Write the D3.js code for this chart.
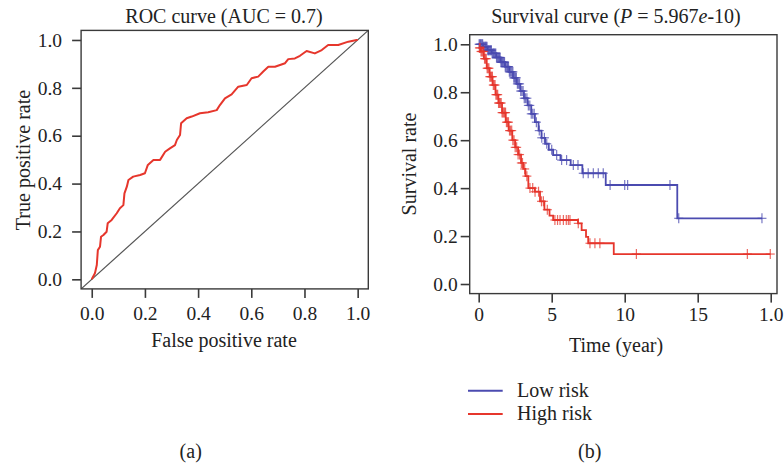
<!DOCTYPE html>
<html>
<head>
<meta charset="utf-8">
<script src="https://cdn.jsdelivr.net/npm/d3@7"></script>
<style>
    body { margin: 0; background: #fff; }
    svg text { font-family: 'Liberation Serif', 'Times New Roman', serif; fill: #222; }
</style>
</head>
<body>
<svg width="784" height="466"></svg>
<script>
// ROC curve (panel a)
var rocFpr = [ 0, .012, .019, .023, .031, .035, .044, .056, .06, .075, .094, .106, .119, .123, .132, .138,
               .156, .182, .2, .211, .232, .257, .276, .294, .313, .32, .332, .336, .357, .376, .407, .438,
               .47, .482, .501, .526, .551, .583, .601, .626, .645, .664, .689, .727, .739, .764, .783,
               .808, .839, .865, .889, .927, .965, .996, 1 ],
    rocTpr = [ 0, .025, .06, .122, .136, .178, .185, .199, .234, .248, .276, .297, .31, .359, .387, .415,
               .429, .436, .443, .478, .499, .499, .533, .547, .561, .582, .603, .652, .673, .68, .694, .698,
               .707, .728, .756, .773, .805, .812, .84, .847, .868, .888, .888, .903, .92, .923, .934,
               .954, .944, .958, .979, .979, .993, 1, 1 ],
    rocTicks = [ 0, 0.2, 0.4, 0.6, 0.8, 1 ];

// Survival curve (panel b)
var lowTimes  = [ 0, 0.3, 0.6, 0.9, 1.2, 1.5, 1.8, 2.1, 2.35, 2.6, 2.85, 3.1, 3.35, 3.6, 3.85, 4.1, 4.3,
                  4.55, 4.8, 5.1, 5.6, 6.3, 7.1, 8.7, 13.6, 19.4 ],
    lowSurv   = [ 1, .99, .975, .962, .945, .925, .907, .885, .86, .835, .805, .775, .745, .71, .675, .64,
                  .61, .585, .56, .538, .517, .496, .462, .413, .274, .274 ],
    lowCensor = [ 0.03, 0.08, 0.12, 0.17, 0.22, 0.27, 0.32, 0.37, 0.42, 0.47, 0.52, 0.57, 0.62, 0.67, 0.72,
                  0.77, 0.82, 0.87, 0.92, 0.97, 1.02, 1.07, 1.12, 1.17, 1.22, 1.27, 1.32, 1.37, 1.42, 1.47,
                  1.52, 1.57, 1.62, 1.67, 1.72, 1.77, 1.82, 1.87, 1.93, 1.98, 2.04, 2.1, 2.16, 2.22, 2.28,
                  2.34, 2.4, 2.46, 2.52, 2.58, 2.65, 2.72, 2.8, 2.88, 2.96, 3.04, 3.12, 3.2, 3.3, 3.4, 3.5,
                  3.6, 3.7, 3.8, 3.95, 4.15, 4.32, 4.5, 4.66, 5.0, 5.34, 5.68, 6.02, 6.48, 6.8,
                  7.16, 7.5, 7.85, 8.19, 8.53, 9.0, 10.0, 10.2, 13.1, 13.7, 19.4 ],
    highTimes  = [ 0, 0.15, 0.35, 0.55, 0.75, 0.95, 1.15, 1.35, 1.6, 1.85, 2.05, 2.3, 2.5, 2.7, 2.9, 3.05,
                   3.2, 3.4, 3.85, 4.2, 4.5, 4.85, 5.1, 6.8, 7.05, 7.35, 7.5, 9.25, 19.97 ],
    highSurv   = [ .985, .97, .94, .9, .865, .83, .79, .755, .715, .675, .64, .6, .57, .54, .505, .48,
                   .45, .4, .385, .345, .31, .285, .267, .253, .225, .197, .17, .125, .125 ],
    highCensor = [ 0.05, 0.1, 0.16, 0.22, 0.28, 0.34, 0.4, 0.46, 0.52, 0.58, 0.64, 0.7, 0.76, 0.82, 0.88,
                   0.94, 1.0, 1.06, 1.12, 1.18, 1.24, 1.3, 1.36, 1.42, 1.48, 1.54, 1.6, 1.66, 1.72, 1.78,
                   1.84, 1.9, 1.97, 2.04, 2.11, 2.18, 2.26, 2.34, 2.42, 2.5, 2.6, 2.7, 2.8, 2.92, 3.0, 3.15,
                   3.3, 3.51, 3.7, 3.86, 4.1, 4.3, 4.43, 4.7, 5.22, 5.4, 5.57, 5.8, 6.0,
                   6.14, 6.25, 6.82, 7.62, 7.96, 8.3, 10.8, 18.4, 19.97 ],
    survXTicks  = [ 0, 5, 10, 15, 20 ],
    survXLabels = [ '0', '5', '10', '15', '1.0' ],
    survYTicks  = [ 0, 0.2, 0.4, 0.6, 0.8, 1 ],
    legendNames = [ 'Low risk', 'High risk' ];

var red   = '#e6362c',
    blue  = '#4b4bb0',
    frame = '#3a3a3a',
    svg   = d3.select( 'svg' ),
    fmt   = d3.format( '.1f' );

function styleAxis( g, fs ) {
    g.select( '.domain' ).remove();
    g.selectAll( '.tick line' ).attr( 'stroke', frame ).attr( 'stroke-width', 1.6 );
    g.selectAll( '.tick text' ).style( 'font-size', fs + 'px' ).attr( 'fill', '#222' );
}

// ---------- panel a ----------
var xa = d3.scaleLinear().domain( [ -0.04, 1.04 ] ).range( [ 81.1, 368.3 ] ),
    ya = d3.scaleLinear().domain( [ -0.04, 1.04 ] ).range( [ 288.9, 30.4 ] ),
    ga = svg.append( 'g' );

ga.append( 'clipPath' ).attr( 'id', 'clipA' )
    .append( 'rect' )
    .attr( 'x', xa.range()[ 0 ] ).attr( 'y', ya.range()[ 1 ] )
    .attr( 'width', xa.range()[ 1 ] - xa.range()[ 0 ] )
    .attr( 'height', ya.range()[ 0 ] - ya.range()[ 1 ] );

// diagonal reference line
ga.append( 'line' )
    .attr( 'clip-path', 'url(#clipA)' )
    .attr( 'x1', xa( -0.04 ) ).attr( 'y1', ya( -0.04 ) )
    .attr( 'x2', xa( 1.04 ) ).attr( 'y2', ya( 1.04 ) )
    .attr( 'stroke', '#555' ).attr( 'stroke-width', 1.2 );

ga.append( 'path' )
    .datum( d3.range( rocFpr.length ) )
    .attr( 'fill', 'none' )
    .attr( 'stroke', red )
    .attr( 'stroke-width', 2 )
    .attr( 'stroke-linejoin', 'round' )
    .attr( 'd', d3.line()
        .x( function ( i ) { return xa( rocFpr[ i ] ); } )
        .y( function ( i ) { return ya( rocTpr[ i ] ); } ) );

ga.append( 'rect' )
    .attr( 'x', xa.range()[ 0 ] ).attr( 'y', ya.range()[ 1 ] )
    .attr( 'width', xa.range()[ 1 ] - xa.range()[ 0 ] )
    .attr( 'height', ya.range()[ 0 ] - ya.range()[ 1 ] )
    .attr( 'fill', 'none' ).attr( 'stroke', frame ).attr( 'stroke-width', 1.4 );

ga.append( 'g' )
    .attr( 'transform', 'translate(0,' + ya.range()[ 0 ] + ')' )
    .call( d3.axisBottom( xa ).tickValues( rocTicks ).tickFormat( fmt ).tickSize( 9 ).tickPadding( 8 ) )
    .call( styleAxis, 19.5 );

ga.append( 'g' )
    .attr( 'transform', 'translate(' + xa.range()[ 0 ] + ',0)' )
    .call( d3.axisLeft( ya ).tickValues( rocTicks ).tickFormat( fmt ).tickSize( 9 ).tickPadding( 10 ) )
    .call( styleAxis, 19.5 );

ga.append( 'text' ).attr( 'x', 224 ).attr( 'y', 23.3 ).attr( 'text-anchor', 'middle' )
    .style( 'font-size', '20px' ).text( 'ROC curve (AUC = 0.7)' );
ga.append( 'text' ).attr( 'x', 224 ).attr( 'y', 346.7 ).attr( 'text-anchor', 'middle' )
    .style( 'font-size', '20px' ).text( 'False positive rate' );
ga.append( 'text' ).attr( 'transform', 'translate(30,160) rotate(-90)' ).attr( 'text-anchor', 'middle' )
    .style( 'font-size', '20px' ).text( 'True positive rate' );
ga.append( 'text' ).attr( 'x', 190.7 ).attr( 'y', 458 ).attr( 'text-anchor', 'middle' )
    .style( 'font-size', '20px' ).text( '(a)' );

// ---------- panel b ----------
var xb = d3.scaleLinear().domain( [ -0.616, 20.43 ] ).range( [ 469.7, 777 ] ),
    yb = d3.scaleLinear().domain( [ -0.04, 1.04 ] ).range( [ 293.6, 34.7 ] ),
    gb = svg.append( 'g' );

function survAt( times, surv, t ) {
    var i = d3.bisectRight( times, t ) - 1;
    return surv[ Math.max( 0, i ) ];
}

function drawGroup( times, surv, censor, color ) {
    gb.append( 'path' )
        .datum( d3.range( times.length ) )
        .attr( 'fill', 'none' )
        .attr( 'stroke', color )
        .attr( 'stroke-width', 1.8 )
        .attr( 'd', d3.line()
            .curve( d3.curveStepAfter )
            .x( function ( i ) { return xb( times[ i ] ); } )
            .y( function ( i ) { return yb( surv[ i ] ); } ) );

    var marks = gb.append( 'g' )
        .attr( 'stroke', color )
        .attr( 'stroke-width', 1.2 )
        .attr( 'stroke-opacity', 0.75 )
        .selectAll( 'g' )
        .data( censor )
        .enter().append( 'g' )
        .attr( 'transform', function ( t ) {
            return 'translate(' + xb( t ) + ',' + yb( survAt( times, surv, t ) ) + ')';
        } );
    marks.append( 'line' ).attr( 'x1', -4.5 ).attr( 'x2', 4.5 );
    marks.append( 'line' ).attr( 'y1', -5 ).attr( 'y2', 5 );
}

drawGroup( lowTimes, lowSurv, lowCensor, blue );
drawGroup( highTimes, highSurv, highCensor, red );

gb.append( 'rect' )
    .attr( 'x', xb.range()[ 0 ] ).attr( 'y', yb.range()[ 1 ] )
    .attr( 'width', xb.range()[ 1 ] - xb.range()[ 0 ] )
    .attr( 'height', yb.range()[ 0 ] - yb.range()[ 1 ] )
    .attr( 'fill', 'none' ).attr( 'stroke', frame ).attr( 'stroke-width', 1.4 );

gb.append( 'g' )
    .attr( 'transform', 'translate(0,' + yb.range()[ 0 ] + ')' )
    .call( d3.axisBottom( xb ).tickValues( survXTicks ).tickSize( 9 ).tickPadding( 5 )
        .tickFormat( function ( d, i ) { return survXLabels[ i ]; } ) )
    .call( styleAxis, 19.5 );

gb.append( 'g' )
    .attr( 'transform', 'translate(' + xb.range()[ 0 ] + ',0)' )
    .call( d3.axisLeft( yb ).tickValues( survYTicks ).tickFormat( fmt ).tickSize( 9 ).tickPadding( 3 ) )
    .call( styleAxis, 19.5 );

var title = gb.append( 'text' ).attr( 'x', 616 ).attr( 'y', 23.3 ).attr( 'text-anchor', 'middle' )
    .style( 'font-size', '20px' );
title.append( 'tspan' ).text( 'Survival curve (' );
title.append( 'tspan' ).style( 'font-style', 'italic' ).text( 'P' );
title.append( 'tspan' ).text( ' = 5.967' );
title.append( 'tspan' ).style( 'font-style', 'italic' ).text( 'e' );
title.append( 'tspan' ).text( '-10)' );

gb.append( 'text' ).attr( 'x', 616 ).attr( 'y', 351.7 ).attr( 'text-anchor', 'middle' )
    .style( 'font-size', '20px' ).text( 'Time (year)' );
gb.append( 'text' ).attr( 'transform', 'translate(416,164) rotate(-90)' ).attr( 'text-anchor', 'middle' )
    .style( 'font-size', '20px' ).text( 'Survival rate' );
gb.append( 'text' ).attr( 'x', 589.7 ).attr( 'y', 458 ).attr( 'text-anchor', 'middle' )
    .style( 'font-size', '20px' ).text( '(b)' );

// legend
var legend = gb.selectAll( '.legend' )
    .data( legendNames )
    .enter().append( 'g' )
    .attr( 'class', 'legend' )
    .attr( 'transform', function ( d, i ) { return 'translate(468,' + ( 390.7 + i * 23.3 ) + ')'; } );
legend.append( 'line' )
    .attr( 'x1', 0 ).attr( 'x2', 34.7 )
    .attr( 'stroke', function ( d, i ) { return i === 0 ? blue : red; } )
    .attr( 'stroke-width', 2 );
legend.append( 'text' )
    .attr( 'x', 49 ).attr( 'y', 6.3 )
    .style( 'font-size', '20px' )
    .text( function ( d ) { return d; } );
</script>
</body>
</html>
